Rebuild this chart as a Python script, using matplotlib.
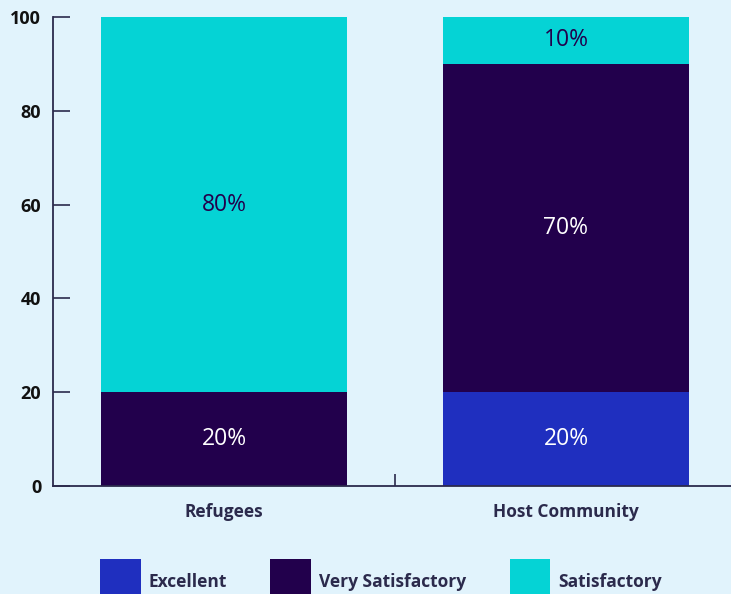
import matplotlib.pyplot as plt
import numpy as np

plt.rcParams['font.family'] = ['Open Sans', 'DejaVu Sans']

groups = ['Refugees', 'Host Community']
ratings = ['Excellent', 'Very Satisfactory', 'Satisfactory']
excellent = [0, 20]
very_satisfactory = [20, 70]
satisfactory = [80, 10]
colors = ['#1f2fbf', '#22004c', '#05d3d5']
label_colors = ['white', 'white', '#22004c']

bg = '#e1f3fc'
ink = '#2b2a4c'

fig = plt.figure(figsize=(7.31, 5.94), dpi=100, facecolor=bg)
ax = fig.add_axes([53 / 731, 108 / 594, 684 / 731, 469 / 594])
ax.set_facecolor(bg)

x = np.arange(len(groups))
bottom = np.zeros(len(groups))
for name, vals, col, lc in zip(ratings, [excellent, very_satisfactory, satisfactory],
                               colors, label_colors):
    vals = np.array(vals, dtype=float)
    ax.bar(x, vals, width=0.72, bottom=bottom, color=col, label=name)
    for xi, b, v in zip(x, bottom, vals):
        if v > 0:
            ax.text(xi, b + v / 2, f'{v:.0f}%', ha='center', va='center',
                    color=lc, fontsize=16.5)
    bottom += vals

ax.set_xlim(-0.5, 1.5)
ax.set_ylim(0, 100)
ax.set_yticks([0, 20, 40, 60, 80, 100])
ax.set_xticks(x)
ax.set_xticklabels(groups, fontsize=12.5, fontweight='bold', color=ink)
ax.set_xticks([0.5], minor=True)
ax.tick_params(axis='x', which='major', length=0, pad=12.5)
ax.tick_params(axis='x', which='minor', direction='in', length=9, width=1.2, color=ink)
ax.tick_params(axis='y', direction='in', length=12, width=1.2, color=ink, pad=8.5,
               labelsize=13, labelcolor='#111111')
for lab in ax.get_yticklabels():
    lab.set_fontweight('bold')

for s in ['top', 'right']:
    ax.spines[s].set_visible(False)
for s in ['left', 'bottom']:
    ax.spines[s].set_color(ink)
    ax.spines[s].set_linewidth(1.3)

fig.legend(loc='upper left', bbox_to_anchor=(100 / 731, 1 - 559 / 594), ncol=3,
           frameon=False, borderpad=0, borderaxespad=0, handlelength=2.35,
           handleheight=3.8, handletextpad=0.45, columnspacing=2.5,
           prop={'size': 12.5, 'weight': 'bold'}, labelcolor=ink)

fig.savefig('out.png', dpi=100, facecolor=bg)
